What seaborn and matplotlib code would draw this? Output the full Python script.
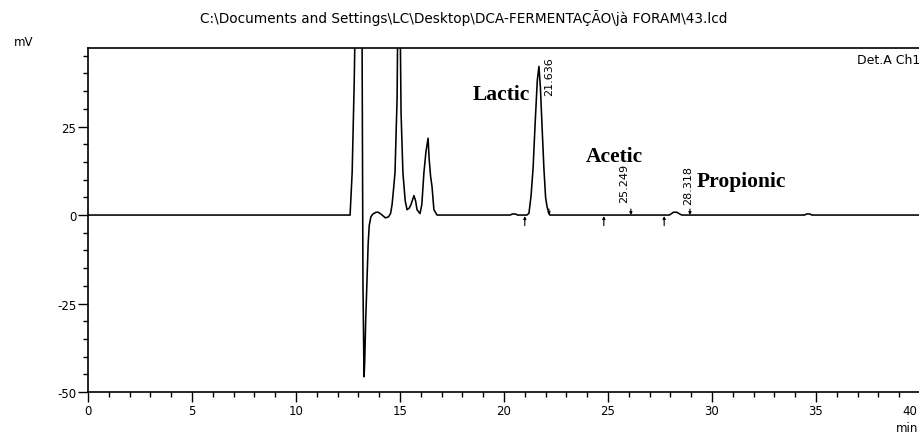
import matplotlib
matplotlib.use("Agg")
import matplotlib.pyplot as plt
from matplotlib.ticker import MultipleLocator
from matplotlib.transforms import ScaledTranslation
import seaborn as sns
import pandas as pd

# Detector trace (retention time in min, signal in mV)
time_min = [
    0.0, 12.60, 12.70, 12.80, 12.86, 13.17, 13.22, 13.27, 13.30, 13.35,
    13.41, 13.47, 13.52, 13.60, 13.70, 13.85, 13.95, 14.10, 14.30, 14.45,
    14.55, 14.62, 14.70, 14.76, 14.86, 14.90, 15.00, 15.05, 15.14, 15.25,
    15.34, 15.45, 15.53, 15.67, 15.75, 15.82, 15.96, 16.05, 16.15, 16.25,
    16.35, 16.40, 16.47, 16.54, 16.63, 16.78, 20.30, 20.40, 20.55, 20.65,
    21.10, 21.20, 21.30, 21.40, 21.49, 21.60, 21.68, 21.75, 21.83, 21.92,
    22.00, 22.07, 22.20, 27.95, 28.05, 28.15, 28.30, 28.45, 28.55, 34.45,
    34.55, 34.70, 34.80, 40.0,
]
signal_mv = [
    0.0, 0.0, 12.0, 38.0, 60.0, 60.0, -20.0, -45.7, -42.0, -30.0,
    -19.0, -8.0, -3.0, -0.5, 0.3, 0.8, 0.8, 0.2, -0.8, -0.5,
    0.5, 3.0, 8.0, 12.0, 33.0, 60.0, 60.0, 29.0, 12.0, 4.0,
    1.5, 2.0, 3.0, 5.5, 4.0, 1.5, 0.4, 3.0, 12.0, 18.0,
    21.7, 16.0, 11.0, 8.0, 1.5, 0.0, 0.0, 0.3, 0.3, 0.0,
    0.0, 0.5, 5.4, 13.4, 25.0, 38.0, 42.0, 36.0, 25.0, 13.0,
    5.0, 2.3, 0.0, 0.0, 0.4, 0.8, 0.8, 0.3, 0.0, 0.0,
    0.3, 0.3, 0.0, 0.0,
]

# Integrated peaks: compound, retention time, start / end of integration
compounds = ["Lactic", "Acetic", "Propionic"]
retention_times = [21.636, 25.249, 28.318]
peak_starts = [21.0, 24.8, 27.7]
peak_ends = [22.16, 26.1, 28.94]

# Compound name anchors (left, baseline) and retention-time label bottoms
name_x = [18.51, 23.94, 29.28]
name_y = [32.7, 15.2, 8.1]
rt_label_y = [33.9, 3.8, 3.0]

x_ticks = [0, 5, 10, 15, 20, 25, 30, 35, 40]
y_ticks = [-50, -25, 0, 25]

trace = pd.DataFrame({"time": time_min, "signal": signal_mv})

sns.set_theme(style="ticks")
plt.rcParams["font.family"] = ["DejaVu Sans"]

fig = plt.figure(figsize=(9.19, 4.35), dpi=100)
ax = fig.add_axes([88 / 919, 42 / 435, 832 / 919, 344 / 435])

sns.lineplot(data=trace, x="time", y="signal", estimator=None, sort=False,
             color="black", linewidth=1.15, ax=ax)

ax.set_xlim(0, 40)
ax.set_ylim(-50, 47.2)
ax.set_xticks(x_ticks)
ax.set_yticks(y_ticks)
ax.xaxis.set_minor_locator(MultipleLocator(1))
ax.yaxis.set_minor_locator(MultipleLocator(5))
ax.tick_params(axis="both", which="major", direction="out", length=7,
               width=1.0, color="black", labelsize=8.5, pad=1.5,
               labelcolor="black")
ax.tick_params(axis="both", which="minor", direction="out", length=3.5,
               width=1.0, color="black")
ax.set_xticklabels([str(v) for v in x_ticks])
ax.set_yticklabels([str(v) for v in y_ticks])

# The last time label sits against the right edge of the canvas
last_label = ax.get_xticklabels()[-1]
last_label.set_horizontalalignment("right")
last_label.set_transform(last_label.get_transform()
                         + ScaledTranslation(-2 / 72, 0, fig.dpi_scale_trans))

for side in ["left", "bottom", "top", "right"]:
    ax.spines[side].set_visible(True)
    ax.spines[side].set_color("black")
    ax.spines[side].set_linewidth(1.2)
ax.set_xlabel("")
ax.set_ylabel("")

# Integration start (up) and end (down) markers on the baseline
for t in peak_starts:
    ax.annotate("", xy=(t, -0.3), xytext=(t, -3.0),
                arrowprops=dict(arrowstyle="-|>", lw=0.8, color="black",
                                mutation_scale=4, shrinkA=0, shrinkB=0))
for t in peak_ends:
    ax.annotate("", xy=(t, 0.0), xytext=(t, 1.7),
                arrowprops=dict(arrowstyle="-|>", lw=0.8, color="black",
                                mutation_scale=4, shrinkA=0, shrinkB=0))

# Retention times and compound names
for name, rt, nx, ny, ly in zip(compounds, retention_times, name_x, name_y,
                                rt_label_y):
    ax.text(rt + 0.55, ly, f"{rt:.3f}", rotation=90, ha="center",
            va="bottom", fontsize=8, color="black")
    ax.text(nx, ny, name, ha="left", va="baseline", fontsize=15.5,
            fontweight="bold", family="Liberation Serif", color="black")

ax.text(1.0, 0.985, "Det.A Ch1", transform=ax.transAxes, ha="right",
        va="top", fontsize=9, color="black")

fig.text(464 / 919, 1 - 18 / 435,
         "C:\\Documents and Settings\\LC\\Desktop\\DCA-FERMENTAÇÃO\\jà FORAM\\43.lcd",
         ha="center", va="center", fontsize=9.8, color="black")
fig.text(24 / 919, 1 - 42 / 435, "mV", ha="center", va="center",
         fontsize=8.5, color="black")
fig.text(907 / 919, 1 - 429 / 435, "min", ha="center", va="center",
         fontsize=8.5, color="black")

fig.savefig("out.png", dpi=100)
